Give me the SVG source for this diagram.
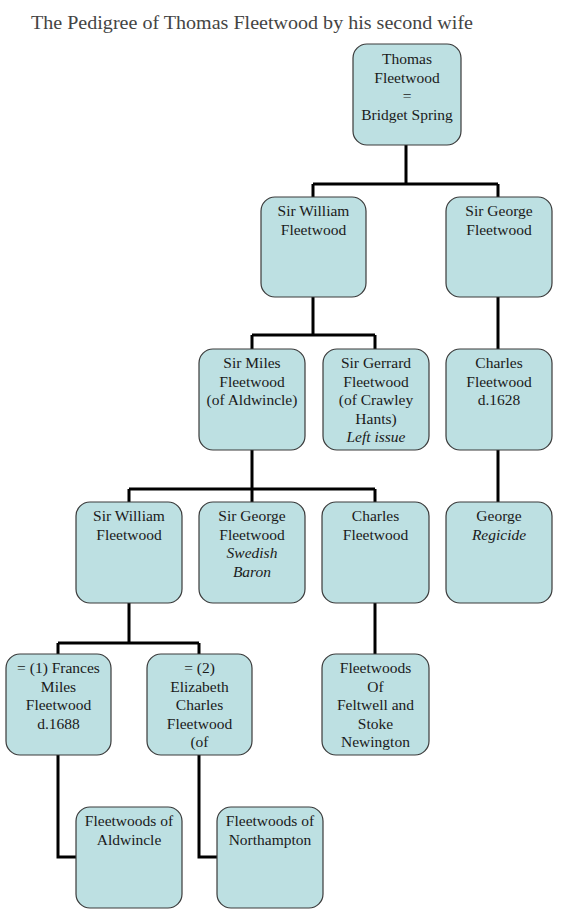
<svg xmlns="http://www.w3.org/2000/svg" width="564" height="922" viewBox="0 0 564 922" font-family="Liberation Serif, serif">
<style>
.bg{fill:#ffffff}
.box{fill:#bde0e2;stroke:#3a3a3a;stroke-width:1.2}
.t{font-size:15.5px;fill:#1a1a1a;text-anchor:middle}
.i{font-style:italic}
.title{font-size:19px;fill:#444}
.c{fill:none;stroke:#000;stroke-width:3}
</style>
<rect class="bg" width="564" height="922"/>
<text class="title" x="31" y="29" textLength="442" lengthAdjust="spacingAndGlyphs">The Pedigree of Thomas Fleetwood by his second wife</text>
<g id="connectors">
<path class="c" d="M406 145 V184 M313 184 H498 M313 184 V197 M498 184 V197"/>
<path class="c" d="M313 297 V335 M252 335 H375 M252 335 V349 M375 335 V349"/>
<path class="c" d="M498 297 V349"/>
<path class="c" d="M252 450 V489 M129 489 H375 M129 489 V502 M252 489 V502 M375 489 V502"/>
<path class="c" d="M498 450 V502"/>
<path class="c" d="M129 603 V643 M58 643 H199 M58 643 V654 M199 643 V654"/>
<path class="c" d="M375 603 V654"/>
<path class="c" d="M58 755 V857 H76"/>
<path class="c" d="M199 755 V857 H217"/>
</g>
<g id="thomas">
<rect class="box" x="353" y="44" width="108" height="101" rx="14"/>
<text class="t" x="407" y="64">Thomas</text>
<text class="t" x="407" y="83">Fleetwood</text>
<text class="t" x="407" y="101">=</text>
<text class="t" x="407" y="120">Bridget Spring</text>
</g>
<g id="sir-william-1">
<rect class="box" x="261" y="197" width="105" height="100" rx="14"/>
<text class="t" x="313.5" y="216">Sir William</text>
<text class="t" x="313.5" y="234.5">Fleetwood</text>
</g>
<g id="sir-george-1">
<rect class="box" x="446" y="197" width="106" height="100" rx="14"/>
<text class="t" x="499" y="216">Sir George</text>
<text class="t" x="499" y="234.5">Fleetwood</text>
</g>
<g id="sir-miles">
<rect class="box" x="199" y="349" width="106" height="101" rx="14"/>
<text class="t" x="252" y="368">Sir Miles</text>
<text class="t" x="252" y="386.5">Fleetwood</text>
<text class="t" x="252" y="405">(of Aldwincle)</text>
</g>
<g id="sir-gerrard">
<rect class="box" x="323" y="349" width="106" height="101" rx="14"/>
<text class="t" x="376" y="368">Sir Gerrard</text>
<text class="t" x="376" y="386.5">Fleetwood</text>
<text class="t" x="376" y="405">(of Crawley</text>
<text class="t" x="376" y="423.5">Hants)</text>
<text class="t i" x="376" y="442">Left issue</text>
</g>
<g id="charles-1628">
<rect class="box" x="446" y="349" width="106" height="101" rx="14"/>
<text class="t" x="499" y="368">Charles</text>
<text class="t" x="499" y="386.5">Fleetwood</text>
<text class="t" x="499" y="405">d.1628</text>
</g>
<g id="sir-william-2">
<rect class="box" x="76" y="502" width="106" height="101" rx="14"/>
<text class="t" x="129" y="521">Sir William</text>
<text class="t" x="129" y="539.5">Fleetwood</text>
</g>
<g id="sir-george-2">
<rect class="box" x="199" y="502" width="106" height="101" rx="14"/>
<text class="t" x="252" y="521">Sir George</text>
<text class="t" x="252" y="539.5">Fleetwood</text>
<text class="t i" x="252" y="558">Swedish</text>
<text class="t i" x="252" y="576.5">Baron</text>
</g>
<g id="charles-2">
<rect class="box" x="322" y="502" width="107" height="101" rx="14"/>
<text class="t" x="375.5" y="521">Charles</text>
<text class="t" x="375.5" y="539.5">Fleetwood</text>
</g>
<g id="george-regicide">
<rect class="box" x="446" y="502" width="106" height="101" rx="14"/>
<text class="t" x="499" y="521">George</text>
<text class="t i" x="499" y="539.5">Regicide</text>
</g>
<g id="frances">
<rect class="box" x="6" y="654" width="105" height="101" rx="14"/>
<text class="t" x="58.5" y="673">= (1) Frances</text>
<text class="t" x="58.5" y="691.5">Miles</text>
<text class="t" x="58.5" y="710">Fleetwood</text>
<text class="t" x="58.5" y="728.5">d.1688</text>
</g>
<g id="elizabeth">
<rect class="box" x="147" y="654" width="105" height="101" rx="14"/>
<text class="t" x="199.5" y="673">= (2)</text>
<text class="t" x="199.5" y="691.5">Elizabeth</text>
<text class="t" x="199.5" y="710">Charles</text>
<text class="t" x="199.5" y="728.5">Fleetwood</text>
<text class="t" x="199.5" y="747">(of</text>
</g>
<g id="feltwell">
<rect class="box" x="322" y="654" width="107" height="101" rx="14"/>
<text class="t" x="375.5" y="673">Fleetwoods</text>
<text class="t" x="375.5" y="691.5">Of</text>
<text class="t" x="375.5" y="710">Feltwell and</text>
<text class="t" x="375.5" y="728.5">Stoke</text>
<text class="t" x="375.5" y="747">Newington</text>
</g>
<g id="aldwincle">
<rect class="box" x="76" y="807" width="106" height="101" rx="14"/>
<text class="t" x="129" y="826">Fleetwoods of</text>
<text class="t" x="129" y="844.5">Aldwincle</text>
</g>
<g id="northampton">
<rect class="box" x="217" y="807" width="106" height="101" rx="14"/>
<text class="t" x="270" y="826">Fleetwoods of</text>
<text class="t" x="270" y="844.5">Northampton</text>
</g>
</svg>
